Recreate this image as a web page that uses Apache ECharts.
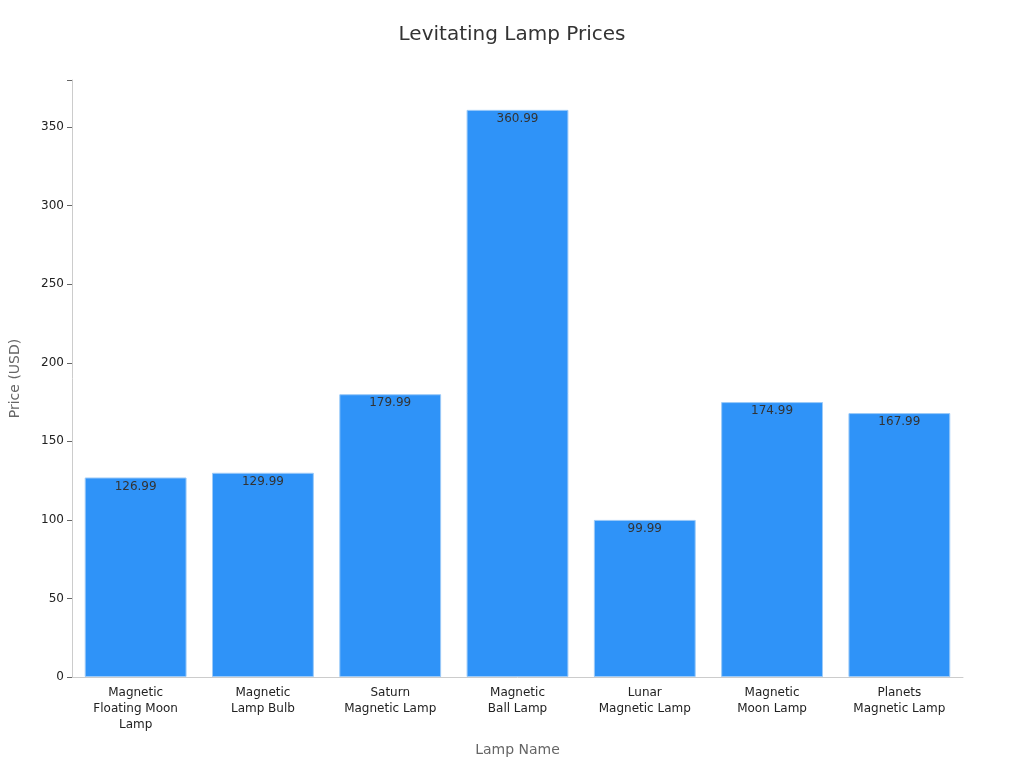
<!DOCTYPE html>
<html><head><meta charset="utf-8">
<script src="https://cdn.jsdelivr.net/npm/echarts@6/dist/echarts.min.js"></script>
<style>html,body{margin:0;padding:0;}#c{width:1024px;height:768px;}</style>
</head><body><div id="c"></div>
<script>
const categories = ["Magnetic\nFloating Moon\nLamp","Magnetic\nLamp Bulb","Saturn\nMagnetic Lamp","Magnetic\nBall Lamp","Lunar\nMagnetic Lamp","Magnetic\nMoon Lamp","Planets\nMagnetic Lamp"];
const prices = [126.99,129.99,179.99,360.99,99.99,174.99,167.99];
const chart = echarts.init(document.getElementById('c'));
chart.setOption({
  title:{text:'Levitating Lamp Prices',left:'center',top:20,textStyle:{fontSize:20,fontWeight:'normal',color:'#333',fontFamily:'DejaVu Sans'}},
  grid:{left:68,right:61,top:80,bottom:91},
  xAxis:{type:'category',data:categories,name:'Lamp Name',nameLocation:'middle',nameGap:66,
    nameTextStyle:{fontSize:14,color:'#666',fontFamily:'DejaVu Sans'},
    axisLine:{lineStyle:{color:'#ccc'}},axisTick:{alignWithLabel:true,lineStyle:{color:'#666'}},
    axisLabel:{color:'#222',fontSize:12,lineHeight:16,fontFamily:'DejaVu Sans',interval:0}},
  yAxis:{type:'value',min:0,max:380,interval:50,name:'Price (USD)',nameLocation:'middle',nameGap:50,
    nameTextStyle:{fontSize:14,color:'#666',fontFamily:'DejaVu Sans'},
    axisLine:{show:true,lineStyle:{color:'#ccc'}},axisTick:{show:true,lineStyle:{color:'#666'}},
    splitLine:{show:false},axisLabel:{color:'#222',fontSize:12,fontFamily:'DejaVu Sans',
      formatter:v=>v%50===0?v:''}},
  series:[{type:'bar',data:prices,barCategoryGap:'20%',
    itemStyle:{color:'#2f93f8',borderColor:'#9ccaf8',borderWidth:1},
    label:{show:true,position:'insideTop',color:'#333',fontSize:12,fontFamily:'DejaVu Sans',offset:[0,-2]}}]
});
</script></body></html>
